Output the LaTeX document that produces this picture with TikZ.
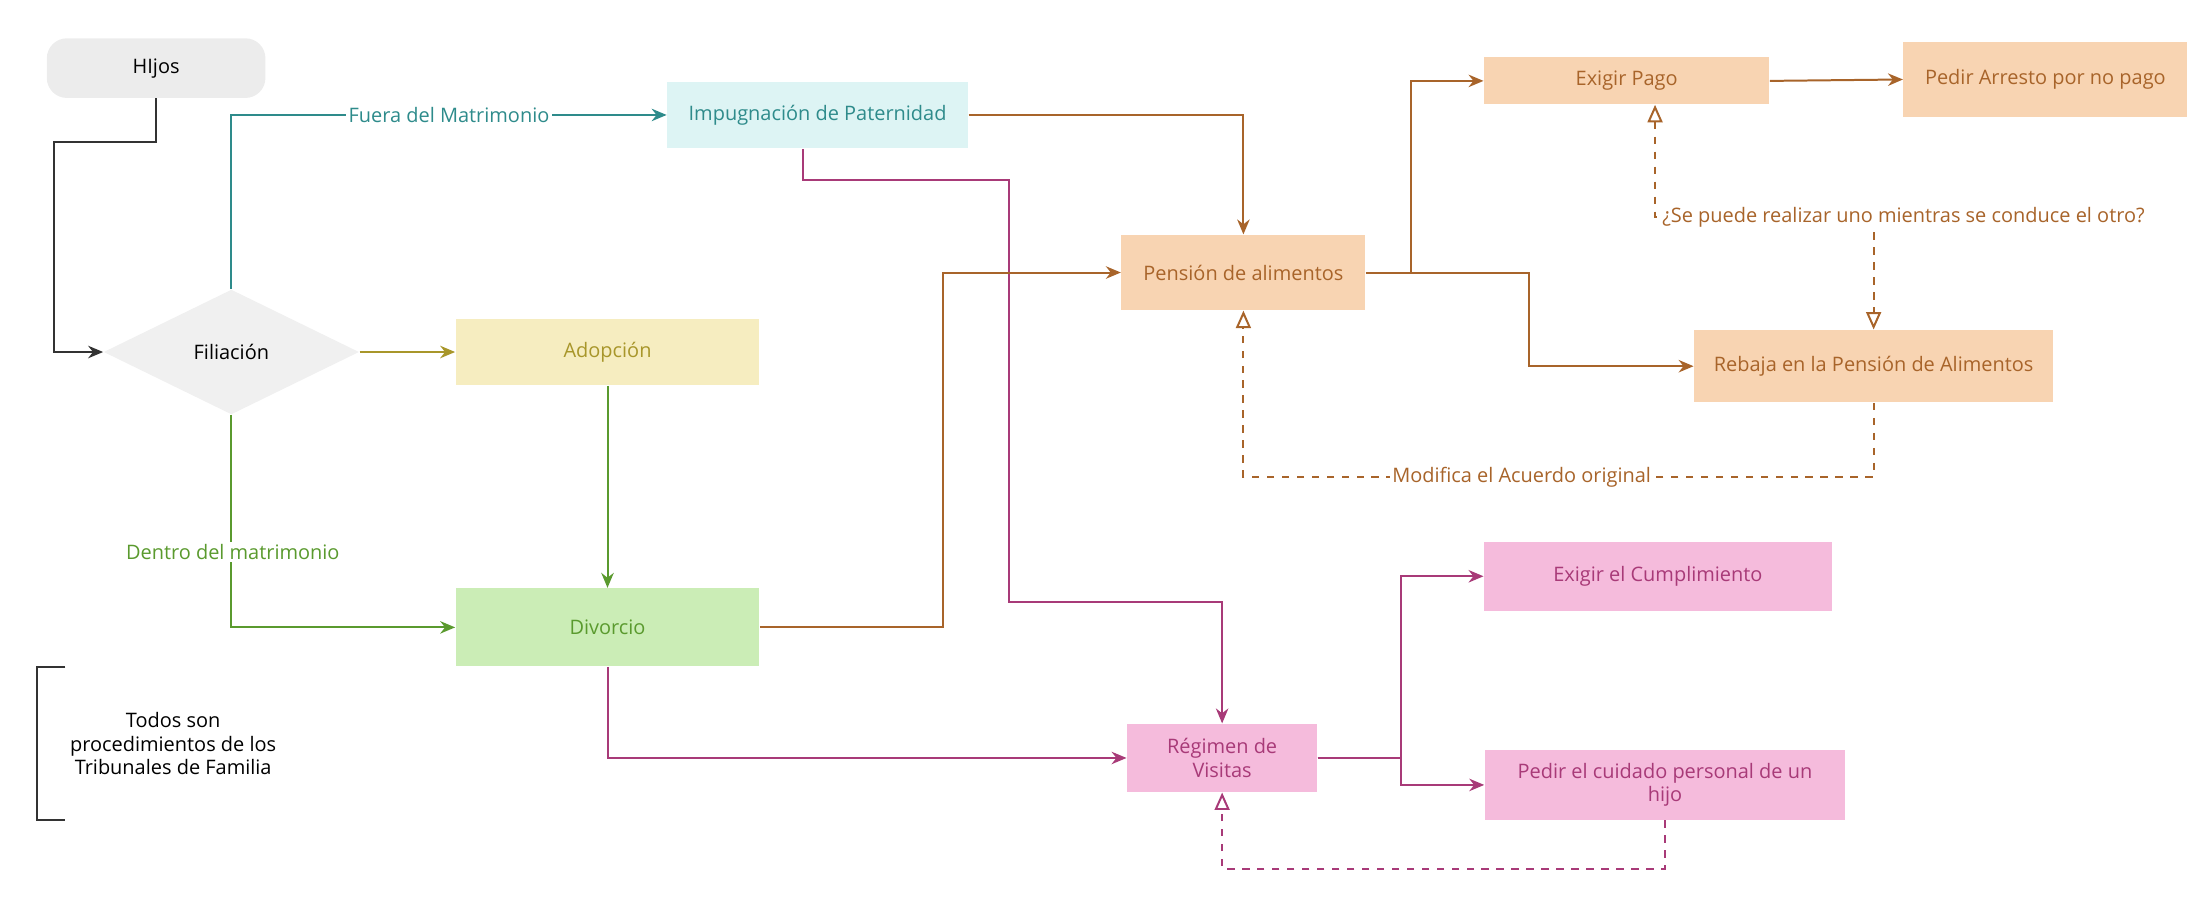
\documentclass[tikz,border=0pt]{standalone}
\usepackage{fontspec}
\setmainfont{Open Sans}
\usetikzlibrary{arrows.meta,shapes.geometric}
\definecolor{teal1}{HTML}{2E8B8B}
\definecolor{olive1}{HTML}{A8962A}
\definecolor{green1}{HTML}{5A9A2E}
\definecolor{brown1}{HTML}{A8642A}
\definecolor{mag1}{HTML}{A83A78}
\definecolor{adfill}{HTML}{F6EDC0}
\definecolor{divfill}{HTML}{CBEDB6}
\definecolor{orfill}{HTML}{F8D4B2}
\definecolor{pkfill}{HTML}{F5BBDC}
\definecolor{cyfill}{HTML}{DDF4F4}
\tikzset{
  box/.style={draw=none, minimum height=#1, align=center, inner sep=2pt, font=\fontsize{8}{9.5}\selectfont},
  link/.style={line width=.8pt, -{Stealth[length=6pt,width=5pt]}},
  back/.style={line width=.8pt, dashed, -{Triangle[open,length=7pt,width=6pt]}},
  lbl/.style={fill=white, inner sep=1pt, font=\fontsize{8}{9.5}\selectfont}
}
\begin{document}
\begin{tikzpicture}[x=0.2mm, y=-0.2mm]
\useasboundingbox (0,0) rectangle (1545,632);

% nodes
\node[box=42*0.2mm, minimum width=154*0.2mm, fill=gray!15, rounded corners=8pt] (hijos) at (110,48) {HIjos};
\node[diamond, aspect=2.05, fill=gray!12, minimum width=180*0.2mm, minimum height=88*0.2mm, inner sep=0pt, font=\fontsize{8}{9.5}\selectfont] (fil) at (163,248) {Filiación};
\node[box=47*0.2mm, minimum width=212*0.2mm, fill=cyfill, text=teal1] (imp) at (576,81) {Impugnación de Paternidad};
\node[box=47*0.2mm, minimum width=214*0.2mm, fill=adfill, text=olive1] (adop) at (428,248) {Adopción};
\node[box=55*0.2mm, minimum width=214*0.2mm, fill=divfill, text=green1] (div) at (428,442) {Divorcio};
\node[box=53*0.2mm, minimum width=172*0.2mm, fill=orfill, text=brown1] (pens) at (876,192) {Pensión de alimentos};
\node[box=33*0.2mm, minimum width=201*0.2mm, fill=orfill, text=brown1] (pago) at (1146,57) {Exigir Pago};
\node[box=53*0.2mm, minimum width=200*0.2mm, fill=orfill, text=brown1] (arr) at (1441,56) {Pedir Arresto por no pago};
\node[box=51*0.2mm, minimum width=253*0.2mm, fill=orfill, text=brown1] (reb) at (1320,258) {Rebaja en la Pensión de Alimentos};
\node[box=48*0.2mm, minimum width=134*0.2mm, fill=pkfill, text=mag1] (reg) at (861,534) {Régimen de\\Visitas};
\node[box=49*0.2mm, minimum width=245*0.2mm, fill=pkfill, text=mag1] (cump) at (1168,406) {Exigir el Cumplimiento};
\node[box=49*0.2mm, minimum width=254*0.2mm, fill=pkfill, text=mag1] (cuid) at (1173,553) {Pedir el cuidado personal de un\\hijo};
\node[align=center, font=\fontsize{8}{9.5}\selectfont] (nota) at (122,524) {Todos son\\procedimientos de los\\Tribunales de Familia};
\draw[line width=.8pt, black!80] (46,470) -- (26,470) -- (26,578) -- (46,578);

% connectors
\draw[link, black!80] (hijos.south) |- (38,100) |- (fil.west);
\draw[link, teal1] (fil.north) |- node[lbl, pos=.75, text=teal1]{Fuera del Matrimonio} (imp.west);
\draw[link, olive1] (fil.east) -- (adop.west);
\draw[link, green1] (fil.south) |- (div.west);
\node[lbl, text=green1] (dentro) at (164,389) {Dentro del matrimonio};
\draw[link, green1] (adop.south) -- (div.north);
\draw[link, brown1] (imp.east) -| (pens.north);
\draw[link, mag1] (imp.south -| 566,0) |- (711,127) |- (861,424) -- (reg.north);
\draw[link, brown1] (div.east) -| (664,192) -- (pens.west);
\draw[link, mag1] (div.south) |- (reg.west);
\draw[link, brown1] (pens.east) -| (994,57) -- (pago.west);
\draw[link, brown1] (pens.east) -| (1077,258) -- (reb.west);
\draw[link, brown1] (pago.east) -- (arr.west);
\draw[back, brown1, {Triangle[open,length=7pt,width=6pt]}-{Triangle[open,length=7pt,width=6pt]}] (pago.south -| 1166,0) |- (1320,153) -- (reb.north -| 1320,0);
\node[lbl, text=brown1] (pregunta) at (1341,153) {¿Se puede realizar uno mientras se conduce el otro?};
\draw[back, brown1] (reb.south) |- (876,336) -- (pens.south);
\node[lbl, text=brown1] (modifica) at (1072,336) {Modifica el Acuerdo original};
\draw[link, mag1] (reg.east) -| (987,406) -- (cump.west);
\draw[link, mag1] (reg.east) -| (987,553) -- (cuid.west);
\draw[back, mag1] (cuid.south) |- (861,612) -- (reg.south);
\end{tikzpicture}
\end{document}
